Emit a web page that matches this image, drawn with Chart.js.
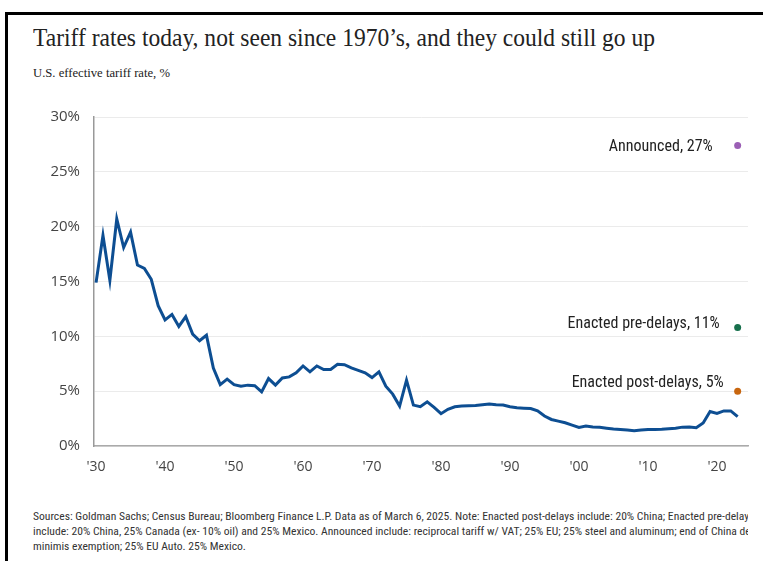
<!DOCTYPE html>
<html>
<head>
<meta charset="utf-8">
<script src="https://cdn.jsdelivr.net/npm/chart.js@4.4.1/dist/chart.umd.min.js"></script>
<style>
  html, body { margin: 0; padding: 0; background: #fff; }
  body { width: 763px; height: 561px; position: relative; overflow: hidden; }
  .frame { position: absolute; left: 5px; top: 12px; right: -10px; bottom: -10px;
           border-top: 3px solid #000; border-left: 3px solid #000; }
  .title { position: absolute; left: 33px; top: 24px; font-family: "Liberation Serif", serif;
           font-size: 25px; color: #222; white-space: nowrap; transform-origin: 0 0; }
  .subtitle { position: absolute; left: 33px; top: 66px; font-family: "Liberation Serif", serif;
              font-size: 12px; color: #222; white-space: nowrap; transform-origin: 0 0; }
  .chart-box { position: absolute; left: 30px; top: 94px; width: 730px; height: 386px; }
  .notes { position: absolute; left: 33px; top: 509px; width: 715px; overflow: hidden;
           font-family: "Liberation Sans Narrow", "Roboto Condensed", "DejaVu Sans Condensed", sans-serif;
           font-size: 11.6px; line-height: 15px; color: #333; }
  .notes div { white-space: nowrap; }
</style>
</head>
<body>
<div class="frame"></div>
<div class="title" id="title">Tariff rates today, not seen since 1970’s, and they could still go up</div>
<div class="subtitle" id="subtitle">U.S. effective tariff rate, %</div>
<div class="chart-box"><canvas id="tariffChart"></canvas></div>
<div class="notes">
  <div>Sources: Goldman Sachs; Census Bureau; Bloomberg Finance L.P. Data as of March 6, 2025. Note: Enacted post-delays include: 20% China; Enacted pre-delays</div>
  <div>include: 20% China, 25% Canada (ex- 10% oil) and 25% Mexico. Announced include: reciprocal tariff w/ VAT; 25% EU; 25% steel and aluminum; end of China de</div>
  <div>minimis exemption; 25% EU Auto. 25% Mexico.</div>
</div>
<script>
// effective tariff rate, 1930 - 2023
const firstYear = 1930;
const tariffRate = [
  14.9, 19.2, 15.1, 20.7, 18.1, 19.5, 16.5, 16.2, 15.2, 12.8,   // 1930s
  11.5, 12.0, 10.9, 11.8, 10.2, 9.6, 10.1, 7.1, 5.6, 6.1,       // 1940s
  5.6, 5.45, 5.55, 5.5, 4.94, 6.15, 5.55, 6.2, 6.3, 6.67,       // 1950s
  7.3, 6.76, 7.3, 6.97, 6.97, 7.45, 7.42, 7.12, 6.9, 6.67,      // 1960s
  6.24, 6.76, 5.45, 4.73, 3.64, 6.0, 3.73, 3.58, 4.03, 3.52,    // 1970s
  2.95, 3.35, 3.58, 3.64, 3.67, 3.7, 3.76, 3.82, 3.76, 3.73,    // 1980s
  3.58, 3.48, 3.45, 3.42, 3.21, 2.73, 2.42, 2.27, 2.12, 1.91,   // 1990s
  1.7, 1.82, 1.73, 1.7, 1.62, 1.55, 1.5, 1.45, 1.4, 1.45,       // 2000s
  1.5, 1.5, 1.52, 1.57, 1.62, 1.72, 1.74, 1.66, 2.1, 3.15,      // 2010s
  2.97, 3.2, 3.2, 2.67                                          // 2020s
];
const years = tariffRate.map((v, i) => firstYear + i);

const scenarioLabels = ['Announced, 27%', 'Enacted pre-delays, 11%', 'Enacted post-delays, 5%'];
const scenarioRates = [27.4, 10.8, 5.0];
const scenarioYear = 2023;

const xTickYears = [1930, 1940, 1950, 1960, 1970, 1980, 1990, 2000, 2010, 2020];
const yTicks = [0, 5, 10, 15, 20, 25, 30];

// styles
const lineColor = '#0d4e92';
const scenarioColors = ['#9b5fb5', '#17704c', '#c8660f'];
const labelNudge = [[-25, 1], [-18, -4], [-14, -8]];

function fitWidth(el, target) {
  const w = el.getBoundingClientRect().width;
  el.style.transform = 'scaleX(' + (target / w) + ')';
}
fitWidth(document.getElementById('title'), 622);
fitWidth(document.getElementById('subtitle'), 137);

const scenarioLabelPlugin = {
  id: 'scenarioLabels',
  afterDatasetsDraw(chart) {
    const ctx = chart.ctx;
    const meta = chart.getDatasetMeta(1);
    ctx.save();
    ctx.font = '16px "Liberation Sans Narrow", "Roboto Condensed", "DejaVu Sans Condensed", sans-serif';
    ctx.fillStyle = '#222';
    ctx.textAlign = 'right';
    ctx.textBaseline = 'middle';
    meta.data.forEach((pt, i) => {
      ctx.fillText(scenarioLabels[i], pt.x + labelNudge[i][0], pt.y + labelNudge[i][1]);
    });
    ctx.restore();
  }
};

const tickFont = { family: '"Open Sans", "DejaVu Sans", sans-serif', size: 15 };

new Chart(document.getElementById('tariffChart'), {
  type: 'line',
  data: {
    datasets: [
      {
        label: 'Effective tariff rate',
        data: years.map((y, i) => ({ x: y, y: tariffRate[i] })),
        borderColor: lineColor,
        borderWidth: 3,
        pointRadius: 0,
        tension: 0,
        fill: false
      },
      {
        type: 'scatter',
        label: 'Scenarios',
        data: scenarioRates.map(r => ({ x: scenarioYear, y: r })),
        pointBackgroundColor: scenarioColors,
        pointBorderWidth: 0,
        pointRadius: 3.5
      }
    ]
  },
  plugins: [scenarioLabelPlugin],
  options: {
    responsive: true,
    maintainAspectRatio: false,
    animation: false,
    layout: { padding: { top: 0, right: 12, left: 0, bottom: 0 } },
    plugins: { legend: { display: false }, tooltip: { enabled: false } },
    scales: {
      x: {
        type: 'linear',
        min: 1929.7,
        max: 2024.5,
        afterBuildTicks: s => { s.ticks = xTickYears.map(v => ({ value: v })); },
        afterFit: s => { s.height = 34; },
        grid: { drawOnChartArea: false, drawTicks: false },
        border: { color: '#aaa', width: 1.5 },
        ticks: {
          padding: 13,
          color: '#444',
          font: { family: '"Open Sans", "DejaVu Sans", sans-serif', size: 14 },
          maxRotation: 0,
          callback: v => "'" + String(v).slice(2)
        }
      },
      y: {
        min: 0,
        max: 30,
        afterBuildTicks: s => { s.ticks = yTicks.map(v => ({ value: v })); },
        afterFit: s => { s.width = 64; },
        grid: { color: '#ebebeb', drawTicks: false },
        border: { color: '#999', width: 1.5 },
        ticks: {
          padding: 14,
          color: '#444',
          font: tickFont,
          callback: v => v + '%'
        }
      }
    }
  }
});
</script>
</body>
</html>
